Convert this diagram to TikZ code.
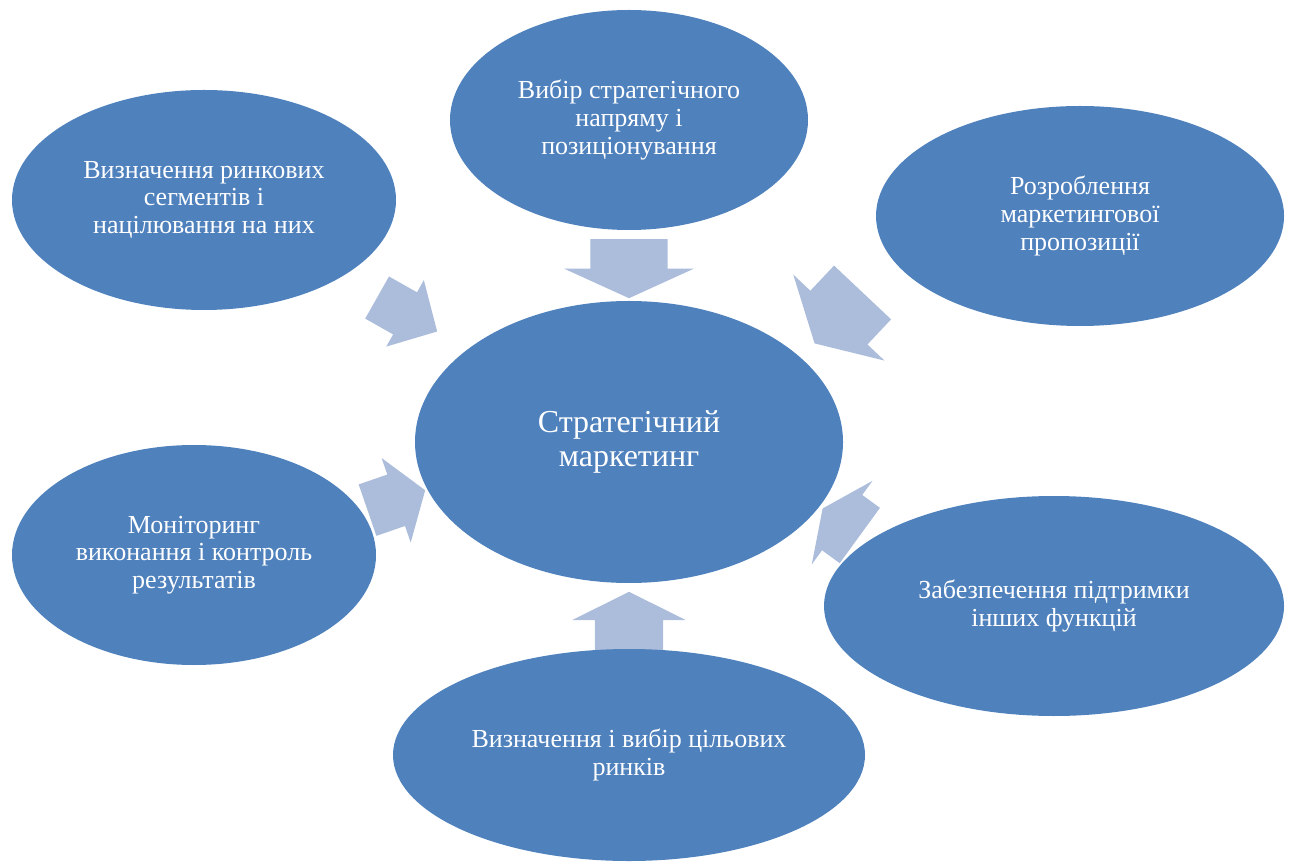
\documentclass[tikz,border=0pt]{standalone}
\usepackage{fontspec}
\setmainfont{Liberation Serif}
\usetikzlibrary{shapes.geometric,shapes.arrows}
\definecolor{ovalblue}{RGB}{79,129,189}
\definecolor{arrowblue}{RGB}{172,189,220}

\begin{document}
\begin{tikzpicture}[
    oval/.style={ellipse, fill=ovalblue, text=white, align=center, inner sep=0pt,
                 font=\fontsize{7.4}{7.9}\selectfont},
    blockarrow/.style={single arrow, fill=arrowblue, inner xsep=0pt, anchor=tip,
                       single arrow head indent=0pt}]
      \useasboundingbox (0,0) rectangle (12.94,8.63);
      % arrows pointing in to the middle (inner ysep = half the shaft)
      \node[blockarrow, inner ysep=0.38cm, minimum height=0.59cm, minimum width=1.28cm, single arrow head extend=0.26cm, single arrow tip angle=131, rotate=-90] (arrN) at (6.29,5.64) {};
      \node[blockarrow, inner ysep=0.335cm, minimum height=0.58cm, minimum width=1.12cm, single arrow head extend=0.225cm, single arrow tip angle=127, rotate=90] (arrS) at (6.29,2.72) {};
      \node[blockarrow, inner ysep=0.235cm, minimum height=0.69cm, minimum width=0.75cm, single arrow head extend=0.14cm, single arrow tip angle=92, rotate=-29.5] (arrNW) at (4.38,5.31) {};
      \node[blockarrow, inner ysep=0.385cm, minimum height=0.70cm, minimum width=1.24cm, single arrow head extend=0.235cm, single arrow tip angle=121, rotate=226.7] (arrNE) at (8.14,5.19) {};
      \node[blockarrow, inner ysep=0.265cm, minimum height=0.61cm, minimum width=0.88cm, single arrow head extend=0.175cm, single arrow tip angle=111, rotate=19] (arrW) at (4.26,3.73) {};
      \node[blockarrow, inner ysep=0.335cm, minimum height=0.46cm, minimum width=1.02cm, single arrow head extend=0.175cm, single arrow tip angle=130, rotate=144] (arrE) at (8.22,3.55) {};
      %
      \node[oval, minimum width=4.28cm, minimum height=2.82cm, font=\fontsize{9.1}{9.5}\selectfont] (strat) at (6.29,4.21) {Стратегічний\\маркетинг};
      %
      \node[oval, minimum width=3.58cm, minimum height=2.20cm] (choice) at (6.29,7.43) {Вибір стратегічного\\напряму і\\позиціонування};
      \node[oval, minimum width=3.84cm, minimum height=2.20cm] (segm) at (2.04,6.63) {Визначення ринкових\\сегментів і\\ націлювання на них};
      \node[oval, minimum width=4.08cm, minimum height=2.20cm] (offer) at (10.80,6.47) {Розроблення\\маркетингової\\пропозиції};
      \node[oval, minimum width=3.64cm, minimum height=2.20cm] (monit) at (1.94,3.08) {Моніторинг\\виконання і контроль\\результатів};
      \node[oval, minimum width=4.60cm, minimum height=2.20cm] (supp) at (10.54,2.57) {Забезпечення підтримки\\інших функцій};
      \node[oval, minimum width=4.72cm, minimum height=2.12cm] (target) at (6.29,1.08) {Визначення і вибір цільових\\ринків};
\end{tikzpicture}
\end{document}
